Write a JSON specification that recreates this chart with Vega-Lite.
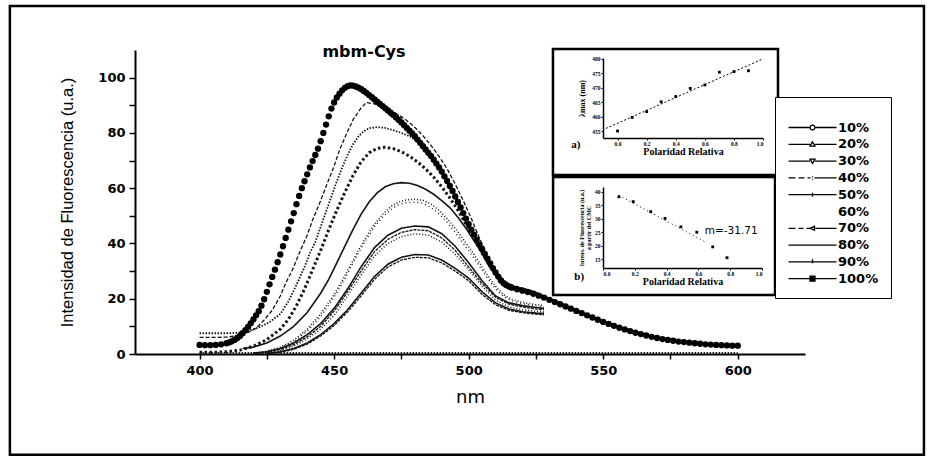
{
  "$schema": "https://vega.github.io/schema/vega-lite/v6.json",
  "width": 670,
  "height": 304,
  "autosize": {"type": "none"},
  "padding": {"left": 135, "top": 50, "right": 126, "bottom": 104},
  "background": "white",
  "config": {
    "view": {"stroke": null},
    "axis": {"domainColor": "black", "tickColor": "black", "labelColor": "black", "titleColor": "black", "grid": false}
  },
  "title": {"text": "mbm-Cys", "font": "DejaVu Sans", "fontSize": 16, "fontWeight": "bold", "color": "black", "anchor": "middle", "frame": "group", "dx": -106, "offset": -55},
  "datasets": {
    "curvas": [
      {"serie":"90%","nm":400,"int":6},{"serie":"90%","nm":405,"int":6},{"serie":"90%","nm":410,"int":6.1},{"serie":"90%","nm":414,"int":6.6},{"serie":"90%","nm":418,"int":7.8},{"serie":"90%","nm":421,"int":9.3},{"serie":"90%","nm":424,"int":12.3},{"serie":"90%","nm":427,"int":15.8},{"serie":"90%","nm":430,"int":21},{"serie":"90%","nm":432,"int":25.6},{"serie":"90%","nm":435,"int":31.5},{"serie":"90%","nm":437,"int":36.4},{"serie":"90%","nm":440,"int":43},{"serie":"90%","nm":442,"int":48.5},{"serie":"90%","nm":445,"int":55.5},{"serie":"90%","nm":447,"int":60.6},{"serie":"90%","nm":450,"int":68},{"serie":"90%","nm":452,"int":73.8},{"serie":"90%","nm":455,"int":80.5},{"serie":"90%","nm":457,"int":84.7},{"serie":"90%","nm":460,"int":89},{"serie":"90%","nm":462,"int":91},{"serie":"90%","nm":465,"int":90.5},{"serie":"90%","nm":468,"int":89.5},{"serie":"90%","nm":471,"int":88.2},{"serie":"90%","nm":474,"int":86.5},{"serie":"90%","nm":477,"int":84.5},{"serie":"90%","nm":480,"int":82},{"serie":"90%","nm":483,"int":79},{"serie":"90%","nm":486,"int":75.5},{"serie":"90%","nm":489,"int":71.5},{"serie":"90%","nm":492,"int":67},{"serie":"90%","nm":495,"int":61.5},{"serie":"90%","nm":498,"int":55.5},{"serie":"90%","nm":501,"int":49},{"serie":"90%","nm":504,"int":42},{"serie":"90%","nm":507,"int":35.5},{"serie":"90%","nm":510,"int":30},{"serie":"90%","nm":513,"int":26.5},{"serie":"90%","nm":516,"int":25},{"serie":"90%","nm":520,"int":23.8},{"serie":"90%","nm":525,"int":22.3},{"serie":"90%","nm":530,"int":20.3},{"serie":"90%","nm":540,"int":16},{"serie":"90%","nm":550,"int":12},{"serie":"90%","nm":560,"int":8.7},{"serie":"90%","nm":570,"int":6.2},{"serie":"90%","nm":580,"int":4.6},{"serie":"90%","nm":590,"int":3.7},{"serie":"90%","nm":600,"int":3.2},
      {"serie":"80%","nm":400,"int":7.5},{"serie":"80%","nm":405,"int":7.5},{"serie":"80%","nm":410,"int":7.5},{"serie":"80%","nm":414,"int":7.7},{"serie":"80%","nm":418,"int":8.3},{"serie":"80%","nm":422,"int":9.6},{"serie":"80%","nm":426,"int":11.5},{"serie":"80%","nm":430,"int":14.5},{"serie":"80%","nm":433,"int":19},{"serie":"80%","nm":436,"int":25},{"serie":"80%","nm":439,"int":31.5},{"serie":"80%","nm":441,"int":36.5},{"serie":"80%","nm":443,"int":40.5},{"serie":"80%","nm":445,"int":46},{"serie":"80%","nm":447,"int":51.5},{"serie":"80%","nm":449,"int":57},{"serie":"80%","nm":451,"int":62.5},{"serie":"80%","nm":453,"int":67.5},{"serie":"80%","nm":455,"int":72},{"serie":"80%","nm":457,"int":75.8},{"serie":"80%","nm":459,"int":78.7},{"serie":"80%","nm":461,"int":80.6},{"serie":"80%","nm":463,"int":81.7},{"serie":"80%","nm":466,"int":82.1},{"serie":"80%","nm":469,"int":81.8},{"serie":"80%","nm":472,"int":81},{"serie":"80%","nm":475,"int":80},{"serie":"80%","nm":478,"int":78.8},{"serie":"80%","nm":481,"int":76.8},{"serie":"80%","nm":484,"int":73.8},{"serie":"80%","nm":487,"int":70},{"serie":"80%","nm":490,"int":65.8},{"serie":"80%","nm":493,"int":61},{"serie":"80%","nm":496,"int":55.5},{"serie":"80%","nm":499,"int":49.5},{"serie":"80%","nm":502,"int":43.5},{"serie":"80%","nm":505,"int":37.5},{"serie":"80%","nm":508,"int":32},{"serie":"80%","nm":511,"int":27.8},{"serie":"80%","nm":514,"int":25.3},{"serie":"80%","nm":518,"int":24},{"serie":"80%","nm":522,"int":23.1},{"serie":"80%","nm":526,"int":21.8},{"serie":"80%","nm":530,"int":20},{"serie":"80%","nm":540,"int":15.7},{"serie":"80%","nm":550,"int":11.7},{"serie":"80%","nm":560,"int":8.4},{"serie":"80%","nm":570,"int":5.9},{"serie":"80%","nm":580,"int":4.4},{"serie":"80%","nm":590,"int":3.5},{"serie":"80%","nm":600,"int":3},
      {"serie":"70%","nm":400,"int":0.6},{"serie":"70%","nm":405,"int":0.6},{"serie":"70%","nm":410,"int":0.8},{"serie":"70%","nm":415,"int":1.4},{"serie":"70%","nm":420,"int":2.8},{"serie":"70%","nm":425,"int":5.2},{"serie":"70%","nm":430,"int":9},{"serie":"70%","nm":433,"int":12.5},{"serie":"70%","nm":436,"int":17.5},{"serie":"70%","nm":439,"int":23.5},{"serie":"70%","nm":442,"int":30.5},{"serie":"70%","nm":445,"int":37.5},{"serie":"70%","nm":448,"int":45},{"serie":"70%","nm":451,"int":52},{"serie":"70%","nm":454,"int":58.5},{"serie":"70%","nm":457,"int":64.5},{"serie":"70%","nm":460,"int":69.5},{"serie":"70%","nm":463,"int":72.8},{"serie":"70%","nm":466,"int":74.4},{"serie":"70%","nm":469,"int":74.8},{"serie":"70%","nm":472,"int":74.3},{"serie":"70%","nm":475,"int":73.2},{"serie":"70%","nm":478,"int":71.6},{"serie":"70%","nm":481,"int":69.5},{"serie":"70%","nm":484,"int":67},{"serie":"70%","nm":487,"int":64},{"serie":"70%","nm":490,"int":60.5},{"serie":"70%","nm":493,"int":56.5},{"serie":"70%","nm":496,"int":52},{"serie":"70%","nm":499,"int":47},{"serie":"70%","nm":502,"int":42},{"serie":"70%","nm":505,"int":36.5},{"serie":"70%","nm":508,"int":31.5},{"serie":"70%","nm":511,"int":27.5},{"serie":"70%","nm":514,"int":25.2},{"serie":"70%","nm":518,"int":23.9},{"serie":"70%","nm":522,"int":23},{"serie":"70%","nm":526,"int":21.7},{"serie":"70%","nm":530,"int":19.9},{"serie":"70%","nm":540,"int":15.6},{"serie":"70%","nm":550,"int":11.6},{"serie":"70%","nm":560,"int":8.3},{"serie":"70%","nm":570,"int":5.8},{"serie":"70%","nm":580,"int":4.3},{"serie":"70%","nm":590,"int":3.5},{"serie":"70%","nm":600,"int":3},
      {"serie":"60%","nm":416,"int":2},{"serie":"60%","nm":420,"int":2.5},{"serie":"60%","nm":425,"int":4},{"serie":"60%","nm":430,"int":6.5},{"serie":"60%","nm":435,"int":10},{"serie":"60%","nm":440,"int":15},{"serie":"60%","nm":445,"int":22},{"serie":"60%","nm":448,"int":27},{"serie":"60%","nm":451,"int":33},{"serie":"60%","nm":454,"int":39},{"serie":"60%","nm":457,"int":45},{"serie":"60%","nm":460,"int":50.5},{"serie":"60%","nm":463,"int":55},{"serie":"60%","nm":466,"int":58.3},{"serie":"60%","nm":469,"int":60.5},{"serie":"60%","nm":472,"int":61.6},{"serie":"60%","nm":475,"int":62},{"serie":"60%","nm":478,"int":61.8},{"serie":"60%","nm":481,"int":61},{"serie":"60%","nm":484,"int":59.6},{"serie":"60%","nm":487,"int":57.8},{"serie":"60%","nm":490,"int":55.5},{"serie":"60%","nm":493,"int":53},{"serie":"60%","nm":496,"int":49.5},{"serie":"60%","nm":499,"int":45.5},{"serie":"60%","nm":502,"int":41},{"serie":"60%","nm":505,"int":36.5},{"serie":"60%","nm":508,"int":32},{"serie":"60%","nm":511,"int":28},{"serie":"60%","nm":514,"int":25.5},{"serie":"60%","nm":518,"int":24},{"serie":"60%","nm":522,"int":23},{"serie":"60%","nm":526,"int":21.7},{"serie":"60%","nm":530,"int":20},{"serie":"60%","nm":540,"int":15.7},{"serie":"60%","nm":550,"int":11.6},{"serie":"60%","nm":560,"int":8.4},{"serie":"60%","nm":570,"int":5.9},{"serie":"60%","nm":580,"int":4.4},{"serie":"60%","nm":590,"int":3.5},{"serie":"60%","nm":600,"int":3},
      {"serie":"50%","nm":420,"int":0.3},{"serie":"50%","nm":425,"int":1},{"serie":"50%","nm":430,"int":2.5},{"serie":"50%","nm":435,"int":5},{"serie":"50%","nm":440,"int":9},{"serie":"50%","nm":445,"int":14.5},{"serie":"50%","nm":450,"int":21.5},{"serie":"50%","nm":453,"int":26.5},{"serie":"50%","nm":456,"int":32},{"serie":"50%","nm":459,"int":37.5},{"serie":"50%","nm":462,"int":42.5},{"serie":"50%","nm":465,"int":47},{"serie":"50%","nm":468,"int":50.5},{"serie":"50%","nm":471,"int":53.3},{"serie":"50%","nm":474,"int":55},{"serie":"50%","nm":477,"int":55.8},{"serie":"50%","nm":480,"int":56},{"serie":"50%","nm":483,"int":55.6},{"serie":"50%","nm":486,"int":54.3},{"serie":"50%","nm":489,"int":52},{"serie":"50%","nm":492,"int":49},{"serie":"50%","nm":495,"int":45.5},{"serie":"50%","nm":498,"int":41.5},{"serie":"50%","nm":501,"int":37.5},{"serie":"50%","nm":504,"int":33},{"serie":"50%","nm":507,"int":28.5},{"serie":"50%","nm":510,"int":24.5},{"serie":"50%","nm":513,"int":21.5},{"serie":"50%","nm":516,"int":19.8},{"serie":"50%","nm":520,"int":18.7},{"serie":"50%","nm":524,"int":18},{"serie":"50%","nm":528,"int":17.5},
      {"serie":"40%","nm":420,"int":0.2},{"serie":"40%","nm":425,"int":0.8},{"serie":"40%","nm":430,"int":2.2},{"serie":"40%","nm":435,"int":4.5},{"serie":"40%","nm":440,"int":8.3},{"serie":"40%","nm":445,"int":13.5},{"serie":"40%","nm":450,"int":20.5},{"serie":"40%","nm":453,"int":25.5},{"serie":"40%","nm":456,"int":31},{"serie":"40%","nm":459,"int":36.5},{"serie":"40%","nm":462,"int":41.5},{"serie":"40%","nm":465,"int":46},{"serie":"40%","nm":468,"int":49.5},{"serie":"40%","nm":471,"int":52.2},{"serie":"40%","nm":474,"int":54},{"serie":"40%","nm":477,"int":54.8},{"serie":"40%","nm":480,"int":55},{"serie":"40%","nm":483,"int":54.5},{"serie":"40%","nm":486,"int":53},{"serie":"40%","nm":489,"int":50.7},{"serie":"40%","nm":492,"int":47.7},{"serie":"40%","nm":495,"int":44},{"serie":"40%","nm":498,"int":40},{"serie":"40%","nm":501,"int":36},{"serie":"40%","nm":504,"int":31.8},{"serie":"40%","nm":507,"int":27.5},{"serie":"40%","nm":510,"int":23.5},{"serie":"40%","nm":513,"int":20.8},{"serie":"40%","nm":516,"int":19.2},{"serie":"40%","nm":520,"int":18.2},{"serie":"40%","nm":524,"int":17.5},{"serie":"40%","nm":528,"int":17},
      {"serie":"30%","nm":420,"int":0.3},{"serie":"30%","nm":425,"int":0.8},{"serie":"30%","nm":430,"int":2},{"serie":"30%","nm":435,"int":4},{"serie":"30%","nm":440,"int":7},{"serie":"30%","nm":445,"int":11},{"serie":"30%","nm":450,"int":16.5},{"serie":"30%","nm":455,"int":23.5},{"serie":"30%","nm":460,"int":31.5},{"serie":"30%","nm":465,"int":38.5},{"serie":"30%","nm":470,"int":43},{"serie":"30%","nm":475,"int":45.5},{"serie":"30%","nm":480,"int":46.3},{"serie":"30%","nm":485,"int":46},{"serie":"30%","nm":490,"int":43.5},{"serie":"30%","nm":495,"int":39},{"serie":"30%","nm":500,"int":33},{"serie":"30%","nm":505,"int":26.5},{"serie":"30%","nm":510,"int":21},{"serie":"30%","nm":515,"int":18.5},{"serie":"30%","nm":520,"int":17.5},{"serie":"30%","nm":525,"int":16.8},{"serie":"30%","nm":528,"int":16.5},
      {"serie":"20%","nm":420,"int":0.2},{"serie":"20%","nm":425,"int":0.6},{"serie":"20%","nm":430,"int":1.6},{"serie":"20%","nm":435,"int":3.4},{"serie":"20%","nm":440,"int":6.2},{"serie":"20%","nm":445,"int":10},{"serie":"20%","nm":450,"int":15.5},{"serie":"20%","nm":455,"int":22.5},{"serie":"20%","nm":460,"int":30},{"serie":"20%","nm":465,"int":37},{"serie":"20%","nm":470,"int":41.5},{"serie":"20%","nm":475,"int":44},{"serie":"20%","nm":480,"int":45},{"serie":"20%","nm":485,"int":44.6},{"serie":"20%","nm":490,"int":42},{"serie":"20%","nm":495,"int":37.5},{"serie":"20%","nm":500,"int":31.5},{"serie":"20%","nm":505,"int":25.5},{"serie":"20%","nm":510,"int":20.5},{"serie":"20%","nm":515,"int":18},{"serie":"20%","nm":520,"int":17},{"serie":"20%","nm":525,"int":16.3},{"serie":"20%","nm":528,"int":16},
      {"serie":"10%","nm":420,"int":0.1},{"serie":"10%","nm":425,"int":0.4},{"serie":"10%","nm":430,"int":1.2},{"serie":"10%","nm":435,"int":2.8},{"serie":"10%","nm":440,"int":5.5},{"serie":"10%","nm":445,"int":9},{"serie":"10%","nm":450,"int":14},{"serie":"10%","nm":455,"int":21},{"serie":"10%","nm":460,"int":28.5},{"serie":"10%","nm":465,"int":35.5},{"serie":"10%","nm":470,"int":40},{"serie":"10%","nm":475,"int":42.5},{"serie":"10%","nm":480,"int":43.5},{"serie":"10%","nm":485,"int":43},{"serie":"10%","nm":490,"int":40.5},{"serie":"10%","nm":495,"int":36},{"serie":"10%","nm":500,"int":30.5},{"serie":"10%","nm":505,"int":24.5},{"serie":"10%","nm":510,"int":19.5},{"serie":"10%","nm":515,"int":17},{"serie":"10%","nm":520,"int":16},{"serie":"10%","nm":525,"int":15.5},{"serie":"10%","nm":528,"int":15.2},
      {"serie":"s11","nm":425,"int":0.2},{"serie":"s11","nm":430,"int":0.8},{"serie":"s11","nm":435,"int":2},{"serie":"s11","nm":440,"int":4},{"serie":"s11","nm":445,"int":7},{"serie":"s11","nm":450,"int":11},{"serie":"s11","nm":455,"int":16},{"serie":"s11","nm":460,"int":22},{"serie":"s11","nm":465,"int":28},{"serie":"s11","nm":470,"int":32.5},{"serie":"s11","nm":475,"int":35},{"serie":"s11","nm":480,"int":36},{"serie":"s11","nm":485,"int":35.8},{"serie":"s11","nm":490,"int":34},{"serie":"s11","nm":495,"int":31},{"serie":"s11","nm":500,"int":27.5},{"serie":"s11","nm":505,"int":22.5},{"serie":"s11","nm":510,"int":18.5},{"serie":"s11","nm":515,"int":16.3},{"serie":"s11","nm":520,"int":15.3},{"serie":"s11","nm":525,"int":14.8},{"serie":"s11","nm":528,"int":14.6},
      {"serie":"s12","nm":425,"int":0.1},{"serie":"s12","nm":430,"int":0.6},{"serie":"s12","nm":435,"int":1.7},{"serie":"s12","nm":440,"int":3.6},{"serie":"s12","nm":445,"int":6.5},{"serie":"s12","nm":450,"int":10.3},{"serie":"s12","nm":455,"int":15.2},{"serie":"s12","nm":460,"int":21},{"serie":"s12","nm":465,"int":27},{"serie":"s12","nm":470,"int":31.5},{"serie":"s12","nm":475,"int":34},{"serie":"s12","nm":480,"int":35},{"serie":"s12","nm":485,"int":34.8},{"serie":"s12","nm":490,"int":33},{"serie":"s12","nm":495,"int":30},{"serie":"s12","nm":500,"int":26.5},{"serie":"s12","nm":505,"int":21.5},{"serie":"s12","nm":510,"int":17.8},{"serie":"s12","nm":515,"int":15.8},{"serie":"s12","nm":520,"int":14.9},{"serie":"s12","nm":525,"int":14.4},{"serie":"s12","nm":528,"int":14.2},
      {"serie":"base","nm":400,"int":0.4},{"serie":"base","nm":425,"int":0.4},{"serie":"base","nm":450,"int":0.4},{"serie":"base","nm":475,"int":0.4},{"serie":"base","nm":500,"int":0.4},{"serie":"base","nm":525,"int":0.4},{"serie":"base","nm":550,"int":0.4},{"serie":"base","nm":575,"int":0.4},{"serie":"base","nm":600,"int":0.4}
    ],
    "c100": [
      {"nm":400,"int":3.3},{"nm":402,"int":3.2},{"nm":404,"int":3.2},{"nm":406,"int":3.3},{"nm":408,"int":3.5},{"nm":410,"int":3.9},{"nm":411,"int":4.2},{"nm":412,"int":4.6},{"nm":413,"int":5.1},{"nm":414,"int":5.8},{"nm":415,"int":6.5},{"nm":416,"int":7.5},{"nm":417,"int":8.6},{"nm":418,"int":9.8},{"nm":419,"int":11.1},{"nm":420,"int":12.5},{"nm":421,"int":14},{"nm":422,"int":15.5},{"nm":423,"int":17.5},{"nm":424,"int":19.8},{"nm":425,"int":22.5},{"nm":426,"int":25.2},{"nm":427,"int":27.9},{"nm":428,"int":30.5},{"nm":429,"int":33.2},{"nm":430,"int":36},{"nm":431,"int":39},{"nm":432,"int":42},{"nm":433,"int":45},{"nm":434,"int":48},{"nm":435,"int":51},{"nm":436,"int":54.2},{"nm":437,"int":57.2},{"nm":438,"int":60},{"nm":439,"int":62.5},{"nm":440,"int":65},{"nm":441,"int":67.5},{"nm":442,"int":69.8},{"nm":443,"int":72},{"nm":444,"int":74.3},{"nm":445,"int":77},{"nm":446,"int":80},{"nm":447,"int":83},{"nm":448,"int":86},{"nm":449,"int":88.8},{"nm":450,"int":91},{"nm":451,"int":92.8},{"nm":452,"int":94.2},{"nm":453,"int":95.4},{"nm":454,"int":96.3},{"nm":455,"int":96.9},{"nm":456,"int":97.2},{"nm":457,"int":97.1},{"nm":458,"int":96.8},{"nm":459,"int":96.4},{"nm":460,"int":95.9},{"nm":461,"int":95.2},{"nm":462,"int":94.5},{"nm":463,"int":93.7},{"nm":464,"int":92.9},{"nm":465,"int":92.1},{"nm":466,"int":91.3},{"nm":467,"int":90.5},{"nm":468,"int":89.7},{"nm":469,"int":88.9},{"nm":470,"int":88.1},{"nm":471,"int":87.3},{"nm":472,"int":86.5},{"nm":473,"int":85.6},{"nm":474,"int":84.7},{"nm":475,"int":83.8},{"nm":476,"int":82.8},{"nm":477,"int":81.8},{"nm":478,"int":80.8},{"nm":479,"int":79.8},{"nm":480,"int":78.8},{"nm":481,"int":77.6},{"nm":482,"int":76.4},{"nm":483,"int":75.2},{"nm":484,"int":74},{"nm":485,"int":72.8},{"nm":486,"int":71.6},{"nm":487,"int":70.3},{"nm":488,"int":68.9},{"nm":489,"int":67.5},{"nm":490,"int":66},{"nm":491,"int":64.3},{"nm":492,"int":62.6},{"nm":493,"int":60.8},{"nm":494,"int":59},{"nm":495,"int":57},{"nm":496,"int":55},{"nm":497,"int":53},{"nm":498,"int":51},{"nm":499,"int":49},{"nm":500,"int":47},{"nm":501,"int":45},{"nm":502,"int":43.2},{"nm":503,"int":41.4},{"nm":504,"int":39.6},{"nm":505,"int":37.9},{"nm":506,"int":36.2},{"nm":507,"int":34.5},{"nm":508,"int":32.8},{"nm":509,"int":31.1},{"nm":510,"int":29.5},{"nm":511,"int":28},{"nm":512,"int":26.6},{"nm":513,"int":25.6},{"nm":514,"int":24.9},{"nm":515,"int":24.4},{"nm":516,"int":24},{"nm":518,"int":23.4},{"nm":520,"int":22.9},{"nm":522,"int":22.4},{"nm":524,"int":21.8},{"nm":526,"int":21.1},{"nm":528,"int":20.4},{"nm":530,"int":19.6},{"nm":532,"int":18.8},{"nm":534,"int":18},{"nm":536,"int":17.2},{"nm":538,"int":16.4},{"nm":540,"int":15.6},{"nm":542,"int":14.8},{"nm":544,"int":14},{"nm":546,"int":13.2},{"nm":548,"int":12.4},{"nm":550,"int":11.6},{"nm":552,"int":10.9},{"nm":554,"int":10.2},{"nm":556,"int":9.5},{"nm":558,"int":8.9},{"nm":560,"int":8.3},{"nm":562,"int":7.7},{"nm":564,"int":7.2},{"nm":566,"int":6.7},{"nm":568,"int":6.2},{"nm":570,"int":5.8},{"nm":572,"int":5.4},{"nm":574,"int":5.1},{"nm":576,"int":4.8},{"nm":578,"int":4.5},{"nm":580,"int":4.3},{"nm":582,"int":4.1},{"nm":584,"int":3.9},{"nm":586,"int":3.7},{"nm":588,"int":3.5},{"nm":590,"int":3.4},{"nm":592,"int":3.3},{"nm":594,"int":3.2},{"nm":596,"int":3.1},{"nm":598,"int":3},{"nm":600,"int":3}
    ],
    "polA": [
      {"pol":0.0,"lambda":455.0},{"pol":0.1,"lambda":459.7},{"pol":0.2,"lambda":461.7},{"pol":0.3,"lambda":465.1},{"pol":0.4,"lambda":466.9},{"pol":0.5,"lambda":469.7},{"pol":0.6,"lambda":470.9},{"pol":0.7,"lambda":475.3},{"pol":0.8,"lambda":475.5},{"pol":0.9,"lambda":475.8}
    ],
    "ajA": [{"pol":-0.08,"lambda":455.9},{"pol":0.99,"lambda":479.7}],
    "polB": [
      {"pol":0.10,"iv":38.1},{"pol":0.19,"iv":36.3},{"pol":0.30,"iv":32.6},{"pol":0.39,"iv":30.1},{"pol":0.49,"iv":27.0},{"pol":0.59,"iv":25.0},{"pol":0.69,"iv":19.6},{"pol":0.78,"iv":15.6}
    ],
    "ajB": [{"pol":0.10,"iv":38.6},{"pol":0.65,"iv":21.2}]
  },
  "layer": [
    {
      "encoding": {
        "x": {"field": "nm", "type": "quantitative",
          "scale": {"domain": [376, 625], "nice": false, "zero": false},
          "axis": {"orient": "bottom", "values": [400, 425, 450, 475, 500, 525, 550, 575, 600],
            "labelExpr": "datum.value % 50 === 0 ? datum.label : ''",
            "tickSize": 5,
            "domainWidth": 2, "tickWidth": 1.5, "labelFont": "DejaVu Sans", "labelFontSize": 13, "labelFontWeight": "bold", "labelPadding": 5,
            "title": "nm", "titleFont": "DejaVu Sans", "titleFontSize": 18, "titleFontWeight": "normal", "titlePadding": 11}},
        "y": {"field": "int", "type": "quantitative",
          "scale": {"domain": [0, 110], "nice": false},
          "axis": {"orient": "left", "values": [0, 10, 20, 30, 40, 50, 60, 70, 80, 90, 100],
            "labelExpr": "datum.value % 20 === 0 ? datum.label : ''",
            "tickSize": 6,
            "domainWidth": 2, "tickWidth": 1.5, "labelFont": "DejaVu Sans", "labelFontSize": 13, "labelFontWeight": "bold", "labelPadding": 4,
            "title": "Intensidad de Fluorescencia (u.a.)", "titleFont": "Liberation Sans", "titleFontSize": 16.5, "titleFontWeight": "normal", "titlePadding": 22}}
      },
      "layer": [
        {"data": {"name": "curvas"}, "transform": [{"filter": {"field": "serie", "oneOf": ["90%"]}}],
         "mark": {"type": "line", "color": "#151515", "strokeWidth": 1.3, "strokeDash": [4, 2]}, "encoding": {"detail": {"field": "serie"}}},
        {"data": {"name": "curvas"}, "transform": [{"filter": {"field": "serie", "oneOf": ["80%", "base"]}}],
         "mark": {"type": "line", "color": "#151515", "strokeWidth": 1.8, "strokeDash": [1.5, 1.5]}, "encoding": {"detail": {"field": "serie"}}},
        {"data": {"name": "curvas"}, "transform": [{"filter": {"field": "serie", "oneOf": ["70%"]}}],
         "mark": {"type": "line", "color": "#151515", "strokeWidth": 3, "strokeDash": [2.5, 2.5]}, "encoding": {"detail": {"field": "serie"}}},
        {"data": {"name": "curvas"}, "transform": [{"filter": {"field": "serie", "oneOf": ["60%", "30%", "s11"]}}],
         "mark": {"type": "line", "color": "#151515", "strokeWidth": 1.6}, "encoding": {"detail": {"field": "serie"}}},
        {"data": {"name": "curvas"}, "transform": [{"filter": {"field": "serie", "oneOf": ["50%", "10%"]}}],
         "mark": {"type": "line", "color": "#151515", "strokeWidth": 1.5, "strokeDash": [1, 2]}, "encoding": {"detail": {"field": "serie"}}},
        {"data": {"name": "curvas"}, "transform": [{"filter": {"field": "serie", "oneOf": ["40%"]}}],
         "mark": {"type": "line", "color": "#151515", "strokeWidth": 1.3, "strokeDash": [1, 3]}, "encoding": {"detail": {"field": "serie"}}},
        {"data": {"name": "curvas"}, "transform": [{"filter": {"field": "serie", "oneOf": ["20%", "s12"]}}],
         "mark": {"type": "line", "color": "#151515", "strokeWidth": 1.3, "strokeDash": [3, 1]}, "encoding": {"detail": {"field": "serie"}}},
        {
          "data": {"name": "c100"},
          "mark": {"type": "point", "filled": true, "shape": "circle", "size": 40, "color": "black", "opacity": 1}
        },
        {
          "data": {"name": "curvas"},
          "transform": [{"filter": {"field": "serie", "oneOf": ["10%","20%","30%","40%","50%","60%","70%","80%","90%"]}}],
          "mark": {"type": "point", "opacity": 0, "size": 100, "color": "black", "strokeWidth": 1.3},
          "encoding": {
            "shape": {"field": "serie", "type": "nominal",
              "scale": {"domain": ["10%","20%","30%","40%","50%","60%","70%","80%","90%","100%"],
                "range": [
                  "M-1,0H3.3M4.3,0H8.6M3.3,0L3.45,-0.35L3.8,-0.5L4.15,-0.35L4.3,0L4.15,0.35L3.8,0.5L3.45,0.35Z",
                  "M-1,0H3.3M4.3,0H8.6M3.3,0.35L3.8,-0.5L4.3,0.35Z",
                  "M-1,0H3.3M4.3,0H8.6M3.3,-0.4L4.3,-0.4L3.8,0.45Z",
                  "M-1,0H0.4M1,0H2.2M2.8,0H3.4M4.2,0H8.6M3.8,-0.35V-0.15M3.8,0.15V0.35",
                  "M-1,0H8.6M3.8,-0.4V0.4",
                  "M3.8,0Z",
                  "M-1,0H0.4M1,0H2M2.6,0H3.2M4.4,0H8.6M3.3,0L4.2,-0.4V0.4Z",
                  "M-1,0H8.6",
                  "M-1,0H8.6M3.8,-0.55V0.25",
                  "M-1,0H8.6M3.3,-0.5H4.3V0.5H3.3ZM3.3,-0.25H4.3M3.3,0H4.3M3.3,0.25H4.3"
                ]},
              "legend": {"orient": "none", "legendX": 640, "legendY": 47, "title": "\u00a0", "titleFontSize": 12, "titlePadding": 0,
                "padding": 12, "strokeColor": "black", "fillColor": "white",
                "symbolSize": 100, "symbolStrokeColor": "black", "symbolFillColor": "transparent", "symbolStrokeWidth": 1.3, "symbolOpacity": 1,
                "labelFont": "DejaVu Sans", "labelFontSize": 13, "labelFontWeight": "bold", "labelColor": "black", "labelOffset": 38, "rowPadding": 2.8}}
          }
        }
      ]
    },
    {
      "encoding": {
        "x": {"field": "pol", "type": "quantitative",
          "scale": {"domain": [-0.1, 1.0], "range": [468, 628], "nice": false, "zero": false},
          "axis": {"orient": "bottom", "offset": -216, "values": [0, 0.2, 0.4, 0.6, 0.8, 1.0], "format": ".1f",
            "tickSize": 2, "domainWidth": 1.5, "labelFont": "Liberation Serif", "labelFontSize": 5.5, "labelFontWeight": "bold", "labelPadding": 1,
            "title": "Polaridad Relativa", "titleFont": "Liberation Serif", "titleFontSize": 10, "titleFontWeight": "bold", "titlePadding": 0}},
        "y": {"field": "lambda", "type": "quantitative",
          "scale": {"domain": [452.6, 480.2], "range": [88, 8], "nice": false, "zero": false},
          "axis": {"orient": "left", "offset": -468, "values": [455, 460, 465, 470, 475, 480],
            "tickSize": 2, "domainWidth": 1.5, "labelFont": "Liberation Serif", "labelFontSize": 5.5, "labelFontWeight": "bold", "labelPadding": 1,
            "title": "λmax (nm)", "titleFont": "Liberation Serif", "titleFontSize": 8, "titleFontWeight": "bold", "titlePadding": 5}}
      },
      "layer": [
        {"data": {"name": "ajA"}, "mark": {"type": "line", "color": "black", "strokeWidth": 1, "strokeDash": [2, 2]}},
        {"data": {"name": "polA"}, "mark": {"type": "point", "filled": true, "shape": "square", "size": 8, "color": "black", "opacity": 1}}
      ]
    },
    {
      "encoding": {
        "x": {"field": "pol", "type": "quantitative",
          "scale": {"domain": [0, 1.0], "range": [468, 627], "nice": false, "zero": false},
          "axis": {"orient": "bottom", "offset": -86, "values": [0, 0.2, 0.4, 0.6, 0.8, 1.0], "format": ".1f",
            "tickSize": 2, "domainWidth": 1.5, "labelFont": "Liberation Serif", "labelFontSize": 5.5, "labelFontWeight": "bold", "labelPadding": 1,
            "title": "Polaridad Relativa", "titleFont": "Liberation Serif", "titleFontSize": 10, "titleFontWeight": "bold", "titlePadding": 0}},
        "y": {"field": "iv", "type": "quantitative",
          "scale": {"domain": [11.8, 41.7], "range": [218, 137], "nice": false, "zero": false},
          "axis": {"orient": "left", "offset": -468, "values": [15, 20, 25, 30, 35, 40],
            "tickSize": 2, "domainWidth": 1.5, "labelFont": "Liberation Serif", "labelFontSize": 5.5, "labelFontWeight": "bold", "labelPadding": 1,
            "title": ["Intens. de Fluorescencia (u.a.)", "a partir del CMC"], "titleFont": "Liberation Serif", "titleFontSize": 6, "titleFontWeight": "bold", "titlePadding": 3, "titleLineHeight": 7}}
      },
      "layer": [
        {"data": {"name": "ajB"}, "mark": {"type": "line", "color": "black", "strokeWidth": 1, "strokeDash": [1, 3]}},
        {"data": {"name": "polB"}, "mark": {"type": "point", "filled": true, "shape": "square", "size": 8, "color": "black", "opacity": 1}}
      ]
    },
    {
      "data": {"values": [{}]},
      "layer": [
        {
          "mark": {"type": "rect", "fill": "transparent", "stroke": "black", "strokeWidth": 2.5},
          "encoding": {
            "x": {"datum": -0.444, "type": "quantitative", "scale": {"domain": [-0.1, 1.0], "range": [468, 628], "nice": false, "zero": false}, "axis": null},
            "x2": {"datum": 1.103},
            "y": {"datum": 483.3, "type": "quantitative", "scale": {"domain": [452.6, 480.2], "range": [88, 8], "nice": false, "zero": false}, "axis": null},
            "y2": {"datum": 439.8}
          }
        },
        {
          "mark": {"type": "text", "text": "a)", "font": "Liberation Serif", "fontSize": 11, "fontWeight": "bold", "color": "black", "align": "center", "baseline": "middle"},
          "encoding": {
            "x": {"datum": -0.286, "type": "quantitative", "scale": {"domain": [-0.1, 1.0], "range": [468, 628], "nice": false, "zero": false}, "axis": null},
            "y": {"datum": 450.2, "type": "quantitative", "scale": {"domain": [452.6, 480.2], "range": [88, 8], "nice": false, "zero": false}, "axis": null}
          }
        }
      ]
    },
    {
      "data": {"values": [{}]},
      "layer": [
        {
          "mark": {"type": "rect", "fill": "transparent", "stroke": "black", "strokeWidth": 2.5},
          "encoding": {
            "x": {"datum": -0.314, "type": "quantitative", "scale": {"domain": [0, 1.0], "range": [468, 627], "nice": false, "zero": false}, "axis": null},
            "x2": {"datum": 1.082},
            "y": {"datum": 45.4, "type": "quantitative", "scale": {"domain": [11.8, 41.7], "range": [218, 137], "nice": false, "zero": false}, "axis": null},
            "y2": {"datum": 1.83}
          }
        },
        {
          "mark": {"type": "text", "text": "b)", "font": "Liberation Serif", "fontSize": 11, "fontWeight": "bold", "color": "black", "align": "center", "baseline": "middle"},
          "encoding": {
            "x": {"datum": -0.15, "type": "quantitative", "scale": {"domain": [0, 1.0], "range": [468, 627], "nice": false, "zero": false}, "axis": null},
            "y": {"datum": 8.5, "type": "quantitative", "scale": {"domain": [11.8, 41.7], "range": [218, 137], "nice": false, "zero": false}, "axis": null}
          }
        },
        {
          "mark": {"type": "text", "text": "m=-31.71", "font": "DejaVu Sans", "fontSize": 10.5, "color": "black", "align": "left", "baseline": "middle"},
          "encoding": {
            "x": {"datum": 0.64, "type": "quantitative", "scale": {"domain": [0, 1.0], "range": [468, 627], "nice": false, "zero": false}, "axis": null},
            "y": {"datum": 25.5, "type": "quantitative", "scale": {"domain": [11.8, 41.7], "range": [218, 137], "nice": false, "zero": false}, "axis": null}
          }
        }
      ]
    },
    {
      "data": {"values": [{}]},
      "mark": {"type": "rect", "fill": "transparent", "stroke": "black", "strokeWidth": 2.5},
      "encoding": {
        "x": {"datum": 329.5, "type": "quantitative", "scale": {"domain": [376, 625], "nice": false, "zero": false}, "axis": null},
        "x2": {"datum": 669.2},
        "y": {"datum": 125.9, "type": "quantitative", "scale": {"domain": [0, 110], "nice": false}, "axis": null},
        "y2": {"datum": -36.5}
      }
    }
  ],
  "resolve": {"scale": {"x": "independent", "y": "independent"}, "axis": {"x": "independent", "y": "independent"}}
}
